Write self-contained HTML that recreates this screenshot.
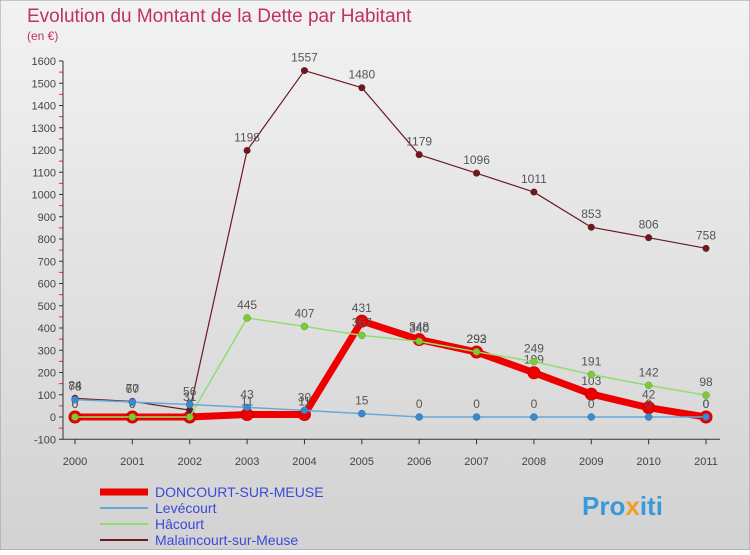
<!DOCTYPE html>
<html><head><meta charset="utf-8"><style>
body{margin:0;width:750px;height:550px;overflow:hidden;font-family:"Liberation Sans",sans-serif}
</style></head><body>
<svg width="750" height="550" xmlns="http://www.w3.org/2000/svg" font-family="Liberation Sans, sans-serif">
<defs><linearGradient id="bg" x1="0" y1="0" x2="0" y2="1"><stop offset="0" stop-color="#f2f2f2"/><stop offset="1" stop-color="#d2d2d2"/></linearGradient></defs>
<rect width="750" height="550" fill="url(#bg)" stroke="#999"/>
<text x="27" y="22" font-size="19" fill="#c0306a">Evolution du Montant de la Dette par Habitant</text>
<text x="27" y="40" font-size="12" fill="#c0306a">(en €)</text>
<g id="axes"></g><g id="series"></g><g id="legend"></g>
<text x="582" y="515" font-size="26" font-weight="bold" fill="#3a9ad9">Pro<tspan fill="#f0a020">x</tspan>iti</text>
</svg>
<script>
const years=[2000,2001,2002,2003,2004,2005,2006,2007,2008,2009,2010,2011];
const yTicks=[-100,0,100,200,300,400,500,600,700,800,900,1000,1100,1200,1300,1400,1500,1600];
const doncourt=[0,0,0,11,11,431,348,292,199,103,42,0];
const levecourt=[78,67,56,43,30,15,0,0,0,0,0,0];
const hacourt=[0,0,0,445,407,367,340,293,249,191,142,98];
const malaincourt=[84,70,31,1198,1557,1480,1179,1096,1011,853,806,758];
const NS="http://www.w3.org/2000/svg";
const X=i=>75+i*(706-75)/11;
const Y=v=>417-v*(417-61)/1600;
function mk(t,a,p){const e=document.createElementNS(NS,t);for(const k in a)e.setAttribute(k,a[k]);p.appendChild(e);return e;}
const ax=document.getElementById('axes');
yTicks.forEach(v=>{
 const g=mk('g',{},ax);
 
 
 mk('line',{x1:59,x2:63,y1:Y(v),y2:Y(v),stroke:'#333'},g);
 if(v<1600){mk('line',{x1:59,x2:63,y1:Y(v+50),y2:Y(v+50),stroke:'#e03030'},g);}
 const t=mk('text',{x:56,y:Y(v)+4,'font-size':11,'text-anchor':'end',fill:'#444'},g);t.textContent=v;
});
const yl=mk('line',{x1:63,x2:63,y1:Y(1600),y2:Y(-100),stroke:'#333'},ax);


const xl=mk('line',{x1:63,x2:720,y1:Y(-100),y2:Y(-100),stroke:'#333'},ax);


years.forEach((y,i)=>{
 const g=mk('g',{},ax);
 
 
 mk('line',{x1:X(i),x2:X(i),y1:Y(-100),y2:Y(-100)+5,stroke:'#333'},g);
 const t=mk('text',{x:X(i),y:465,'font-size':11,'text-anchor':'middle',fill:'#444'},g);t.textContent=y;
});
const sg=document.getElementById('series');
function series(name,data,color,w,r,fill,stroke,sw){
 const g=mk('g',{},sg);
 
 
 mk('polyline',{points:data.map((v,i)=>X(i)+','+Y(v)).join(' '),fill:'none',stroke:color,'stroke-width':w,'stroke-linejoin':'round'},g);
 data.forEach((v,i)=>{
  const c=mk('circle',{cx:X(i),cy:Y(v),r:r,fill:fill,stroke:stroke,'stroke-width':sw},g);
  
  
  const t=mk('text',{x:X(i),y:Y(v)-9,'font-size':12,'text-anchor':'middle',fill:'#555'},g);t.textContent=v;
 });
}
series('doncourt',doncourt,'#ee0000',7,6,'#ee0000','#c00',1);
series('malaincourt',malaincourt,'#6b1a22',1.2,3.5,'#6b1a22','#6b1a22',0);
series('hacourt',hacourt,'#90dd70',1.5,3.5,'#7ccc3a','#5a9a2a',0.5);
series('levecourt',levecourt,'#6aa8d8',1.5,3.5,'#3a8ad0','#2a6aa0',0.5);
const lg=document.getElementById('legend');
[['DONCOURT-SUR-MEUSE','#ee0000',7],['Levécourt','#6aa8d8',2],['Hâcourt','#90dd70',2],['Malaincourt-sur-Meuse','#6b1a22',2]].forEach((d,i)=>{
 const g=mk('g',{},lg);
 
 
 const y=492+i*16;
 mk('line',{x1:100,x2:148,y1:y,y2:y,stroke:d[1],'stroke-width':d[2]},g);
 const t=mk('text',{x:155,y:y+5,'font-size':14,fill:'#3a4ad8'},g);t.textContent=d[0];
});
</script>
</body></html>
